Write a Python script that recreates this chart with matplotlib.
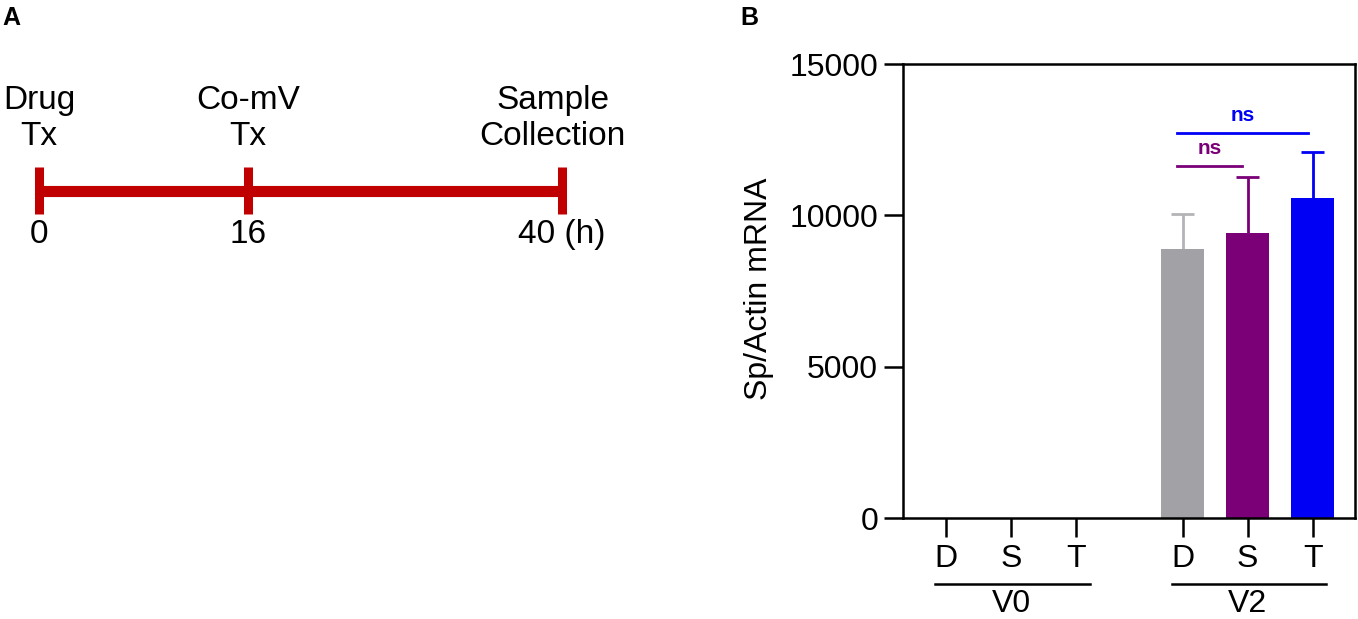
import matplotlib
matplotlib.use("Agg")
import matplotlib.pyplot as plt
import matplotlib.transforms as mtransforms

plt.rcParams['font.family'] = ['Liberation Sans', 'DejaVu Sans']

# ---------------- data ----------------
# Panel A timeline
time_points = [0, 16, 40]
event_labels = ["Drug\nTx", "Co-mV\nTx", "Sample\nCollection"]
time_labels = ["0", "16", "40 (h)"]

# Panel B bar chart
groups = ["V0", "V2"]
conditions = ["D", "S", "T"]
v0_means = [0, 0, 0]
v0_errs = [0, 0, 0]
v2_means = [8900, 9400, 10570]
v2_errs = [1150, 1870, 1520]
cond_colors = ["#A2A1A6", "#7B0078", "#0000F5"]
err_colors = ["#B4B4B8", "#7B0078", "#0000F5"]
sig_pairs = [(0, 1, "ns", "#7B0078", 11630), (0, 2, "ns", "#0000F5", 12720)]
yticks = [0, 5000, 10000, 15000]

W, H = 1358, 619
fig = plt.figure(figsize=(W / 100, H / 100), dpi=100)
red = "#C00000"

# ---------------- Panel A ----------------
axa = fig.add_axes([0, 0, 700 / W, 1])
axa.set_axis_off()
px_per_h = (562 - 39) / 40.0
axa.set_xlim(-39 / px_per_h, (700 - 39) / px_per_h)
axa.set_ylim(H, 0)
axa.hlines(191, time_points[0], time_points[-1], color=red, lw=8)
axa.vlines(time_points, 167, 214, color=red, lw=6.5)
for t, lab, tl in zip(time_points, event_labels, time_labels):
    dx = -0.7 if t == time_points[-1] else 0
    axa.text(t + dx, 145, lab, ha="center", va="baseline", fontsize=24,
             linespacing=1.22, multialignment="center")
    axa.text(t, 243, tl, ha="center", va="baseline", fontsize=24)

fig.text(2 / W, 1 - 25 / H, "A", fontsize=18, fontweight="bold", ha="left", va="baseline")
fig.text(740 / W, 1 - 25 / H, "B", fontsize=18, fontweight="bold", ha="left", va="baseline")

# ---------------- Panel B ----------------
axb = fig.add_axes([903 / W, (H - 518) / H, 452 / W, 454 / H])
positions = [0, 1, 2, 3.64, 4.64, 5.64]
means = v0_means + v2_means
errs = v0_errs + v2_errs
colors = cond_colors * 2
ecols = err_colors * 2
axb.bar(positions, means, width=0.66, color=colors, edgecolor="none", zorder=2)
cap_half = 0.18
for p, m, e, c in zip(positions, means, errs, ecols):
    if e > 0:
        axb.vlines(p, m, m + e, color=c, lw=2.0, zorder=1)
        axb.hlines(m + e, p - cap_half, p + cap_half, color=c, lw=2.0, zorder=1)

axb.set_xlim(-0.66, 6.29)
axb.set_ylim(0, 15000)
axb.set_yticks(yticks)
axb.set_yticklabels([str(v) for v in yticks])
axb.set_xticks(positions)
axb.set_xticklabels(conditions * 2)
for s in axb.spines.values():
    s.set_linewidth(1.8)
axb.tick_params(axis="both", direction="out", length=14, width=1.8, labelsize=23, pad=4)
axb.tick_params(axis="x", pad=5)
axb.set_ylabel("Sp/Actin mRNA", fontsize=23)
axb.yaxis.set_label_coords(-0.285, 0.505)

v2pos = positions[3:]
for i, j, txt, col, yv in sig_pairs:
    x0, x1 = v2pos[i] - 0.08, v2pos[j] - 0.08
    axb.plot([x0, x1], [yv, yv], color=col, lw=2.0, clip_on=False)
    axb.text((x0 + x1) / 2, yv + 250, txt, ha="center", va="bottom",
             color=col, fontsize=15, fontweight="bold")

trans = mtransforms.blended_transform_factory(axb.transData, axb.transAxes)
group_pos = [positions[:3], positions[3:]]
for g, gp in zip(groups, group_pos):
    axb.plot([gp[0] - 0.17, gp[-1] + 0.21], [-0.145, -0.145], color="black",
             lw=1.8, transform=trans, clip_on=False)
    axb.text((gp[0] + gp[-1]) / 2, -0.19, g, ha="center", va="center",
             fontsize=23, transform=trans)

fig.savefig("out.png", dpi=100, facecolor="white")
